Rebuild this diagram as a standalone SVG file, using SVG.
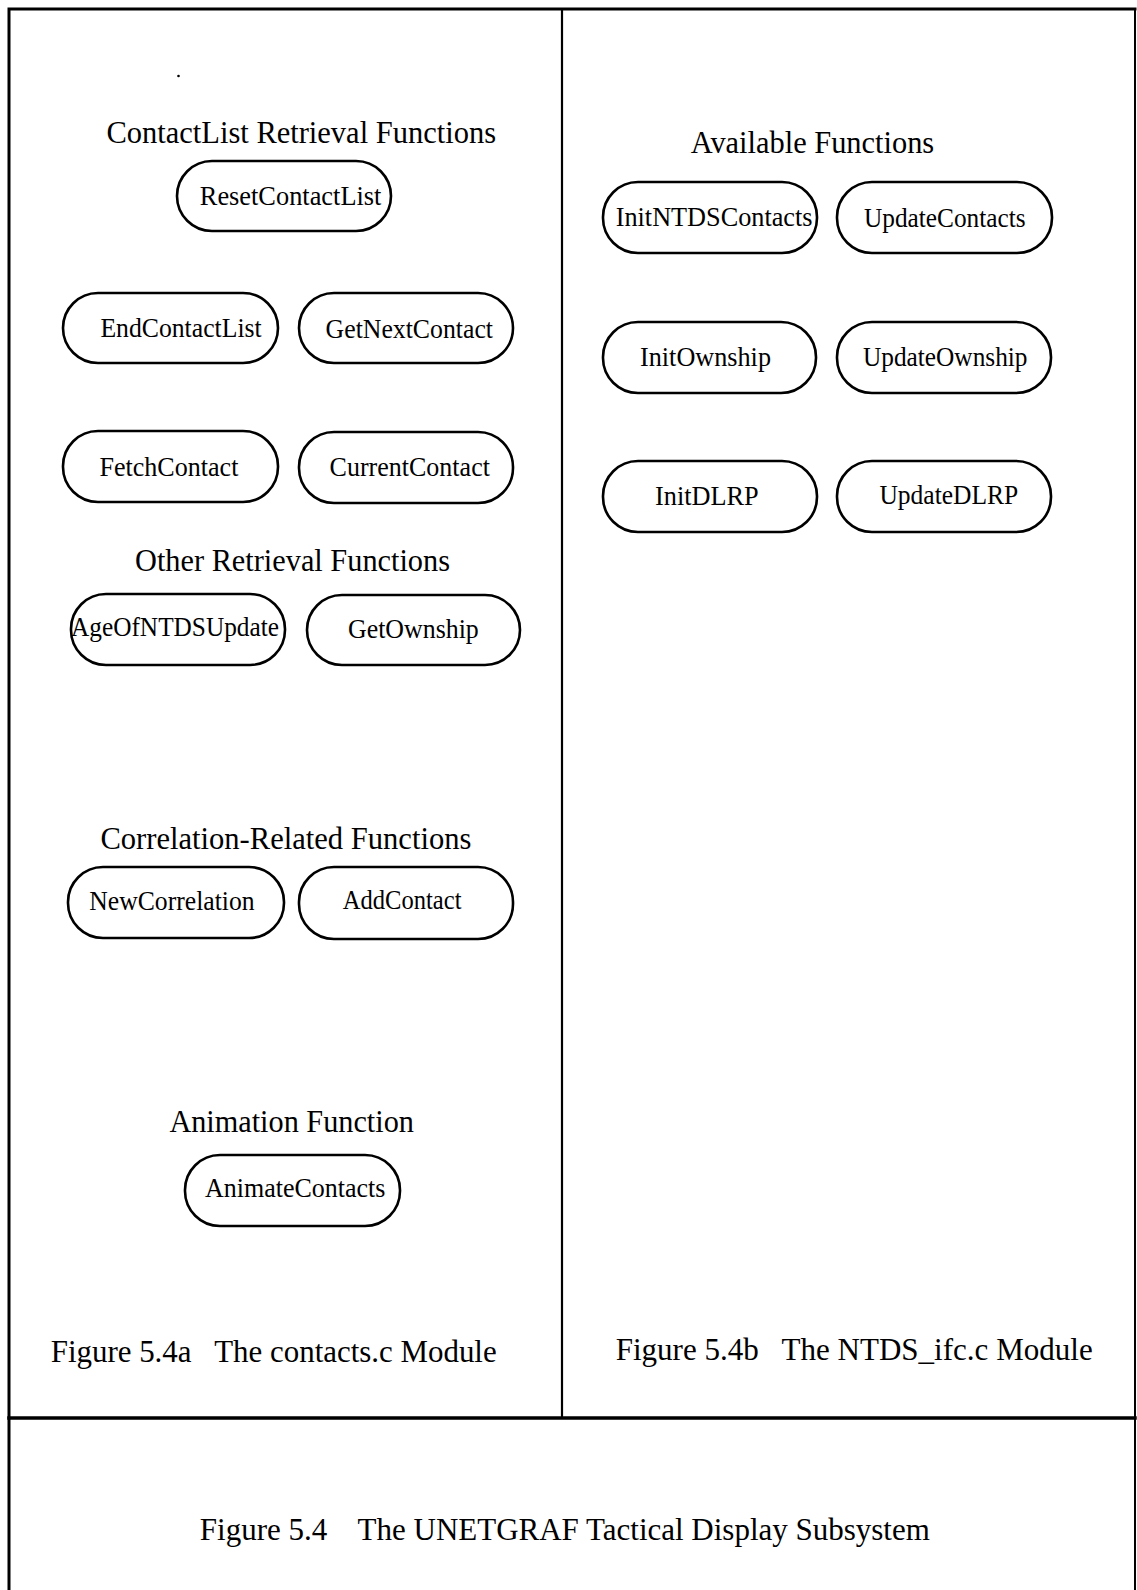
<svg xmlns="http://www.w3.org/2000/svg" width="1137" height="1590" viewBox="0 0 1137 1590">
<style>
.frame{fill:none;stroke:#000;stroke-linecap:square}
.node{fill:#fff;stroke:#000;stroke-width:2.6}
.lbl{font-family:"Liberation Serif","Times New Roman",serif;font-size:28px;fill:#000}
.hd{font-family:"Liberation Serif","Times New Roman",serif;font-size:32px;fill:#000}
</style>
<rect width="1137" height="1590" fill="#fff"/>
<g id="frame">
<path class="frame" stroke-width="3" d="M9,1590 V9 H1135"/>
<path class="frame" stroke-width="2" d="M1135,9 V1590"/>
<path class="frame" stroke-width="2.2" d="M562,9 V1418"/>
<path class="frame" stroke-width="3.5" d="M9,1418 H1135"/>
<circle cx="178.5" cy="76" r="1.3" fill="#000"/>
</g>
<g id="headings">
<text class="hd" x="106.5" y="143" textLength="389.5" lengthAdjust="spacingAndGlyphs">ContactList Retrieval Functions</text>
<text class="hd" x="135" y="571" textLength="315" lengthAdjust="spacingAndGlyphs">Other Retrieval Functions</text>
<text class="hd" x="100.4" y="849" textLength="371" lengthAdjust="spacingAndGlyphs">Correlation-Related Functions</text>
<text class="hd" x="169.4" y="1132" textLength="244.5" lengthAdjust="spacingAndGlyphs">Animation Function</text>
<text class="hd" x="690.7" y="153" textLength="243.5" lengthAdjust="spacingAndGlyphs">Available Functions</text>
<text class="hd" x="50.7" y="1362" textLength="446" lengthAdjust="spacingAndGlyphs" xml:space="preserve">Figure 5.4a   The contacts.c Module</text>
<text class="hd" x="615.7" y="1360" textLength="477" lengthAdjust="spacingAndGlyphs" xml:space="preserve">Figure 5.4b   The NTDS_ifc.c Module</text>
<text class="hd" x="199.8" y="1540" textLength="730" lengthAdjust="spacingAndGlyphs" xml:space="preserve">Figure 5.4    The UNETGRAF Tactical Display Subsystem</text>
</g>
<g id="connectors"/>
<g id="n-ResetContactList"><rect class="node" x="177" y="161" width="214" height="70" rx="35"/><text class="lbl" x="199.8" y="205" textLength="181.6" lengthAdjust="spacingAndGlyphs">ResetContactList</text></g>
<g id="n-EndContactList"><rect class="node" x="63" y="293" width="215" height="70" rx="35"/><text class="lbl" x="100.4" y="337" textLength="161.3" lengthAdjust="spacingAndGlyphs">EndContactList</text></g>
<g id="n-GetNextContact"><rect class="node" x="299" y="293" width="214" height="70" rx="35"/><text class="lbl" x="325.6" y="338" textLength="167.4" lengthAdjust="spacingAndGlyphs">GetNextContact</text></g>
<g id="n-FetchContact"><rect class="node" x="63" y="431" width="215" height="71" rx="35"/><text class="lbl" x="99.4" y="476" textLength="139" lengthAdjust="spacingAndGlyphs">FetchContact</text></g>
<g id="n-CurrentContact"><rect class="node" x="299" y="432" width="214" height="71" rx="35"/><text class="lbl" x="329.6" y="476" textLength="160.3" lengthAdjust="spacingAndGlyphs">CurrentContact</text></g>
<g id="n-AgeOfNTDSUpdate"><rect class="node" x="71" y="594" width="214" height="71" rx="35"/><text class="lbl" x="71" y="636" textLength="208" lengthAdjust="spacingAndGlyphs">AgeOfNTDSUpdate</text></g>
<g id="n-GetOwnship"><rect class="node" x="307" y="595" width="213" height="70" rx="35"/><text class="lbl" x="348" y="638" textLength="130.8" lengthAdjust="spacingAndGlyphs">GetOwnship</text></g>
<g id="n-NewCorrelation"><rect class="node" x="68" y="867" width="216" height="71" rx="35"/><text class="lbl" x="89.3" y="910" textLength="165.3" lengthAdjust="spacingAndGlyphs">NewCorrelation</text></g>
<g id="n-AddContact"><rect class="node" x="299" y="867" width="214" height="72" rx="35"/><text class="lbl" x="342.8" y="909" textLength="118.7" lengthAdjust="spacingAndGlyphs">AddContact</text></g>
<g id="n-AnimateContacts"><rect class="node" x="185" y="1155" width="215" height="71" rx="35"/><text class="lbl" x="205" y="1197" textLength="180.4" lengthAdjust="spacingAndGlyphs">AnimateContacts</text></g>
<g id="n-InitNTDSContacts"><rect class="node" x="603" y="182" width="214" height="71" rx="35"/><text class="lbl" x="615.7" y="226" textLength="196.8" lengthAdjust="spacingAndGlyphs">InitNTDSContacts</text></g>
<g id="n-UpdateContacts"><rect class="node" x="837" y="182" width="215" height="71" rx="35"/><text class="lbl" x="864" y="227" textLength="161.5" lengthAdjust="spacingAndGlyphs">UpdateContacts</text></g>
<g id="n-InitOwnship"><rect class="node" x="603" y="322" width="213" height="71" rx="35"/><text class="lbl" x="640" y="366" textLength="131" lengthAdjust="spacingAndGlyphs">InitOwnship</text></g>
<g id="n-UpdateOwnship"><rect class="node" x="837" y="322" width="214" height="71" rx="35"/><text class="lbl" x="863" y="366" textLength="164.5" lengthAdjust="spacingAndGlyphs">UpdateOwnship</text></g>
<g id="n-InitDLRP"><rect class="node" x="603" y="461" width="214" height="71" rx="35"/><text class="lbl" x="655" y="505" textLength="103.7" lengthAdjust="spacingAndGlyphs">InitDLRP</text></g>
<g id="n-UpdateDLRP"><rect class="node" x="837" y="461" width="214" height="71" rx="35"/><text class="lbl" x="879.4" y="504" textLength="138.9" lengthAdjust="spacingAndGlyphs">UpdateDLRP</text></g>
</svg>
